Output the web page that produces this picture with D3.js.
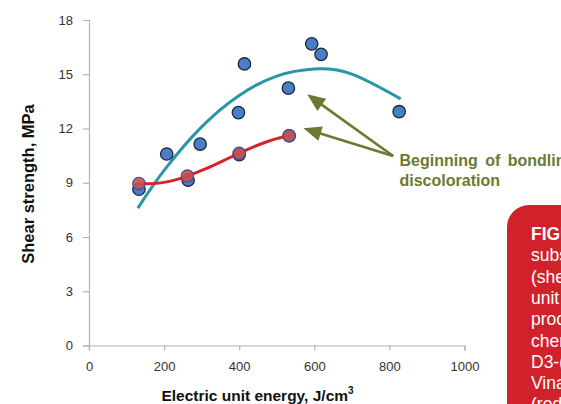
<!DOCTYPE html>
<html><head><meta charset="utf-8">
<script src="https://cdn.jsdelivr.net/npm/d3@7"></script>
<style>html,body{margin:0;padding:0;background:#fff;overflow:hidden}</style>
</head><body>
<svg id="c" width="561" height="404"></svg>
<script>
// ---- data ----
const xTicks = [0, 200, 400, 600, 800, 1000];
const yTicks = [0, 3, 6, 9, 12, 15, 18];
const blueX = [133, 207, 264, 296, 398, 400, 414, 531, 533, 593, 618, 826];
const blueY = [8.64, 10.59, 9.15, 11.14, 12.88, 10.55, 15.57, 14.23, 11.6, 16.68, 16.1, 12.93];
const redX = [133, 262, 400, 533];
const redY = [8.96, 9.37, 10.63, 11.6];
const blueTrendX = [130, 200, 300, 400, 500, 600, 700, 830];
const blueTrendY = [7.6, 9.68, 12.09, 13.83, 14.9, 15.29, 15.01, 13.64];
const redTrendX = [133, 160, 200, 230, 262, 300, 330, 370, 400, 440, 470, 500, 533];
const redTrendY = [8.96, 8.94, 9.02, 9.16, 9.37, 9.68, 9.95, 10.34, 10.63, 11.0, 11.24, 11.44, 11.6];
const annoLines = ["Beginning of bondline", "discoloration"];
const arrowTail = [810, 10.48];
const arrowTips = [[581, 13.89], [571, 12.01]];
const captionLines = ["FIGURE", "substrate", "(shear", "unit energy", "process", "chemistry", "D3-(", "Vinamul", "(red"];
const yTitle = "Shear strength, MPa";
const xTitle = "Electric unit energy, J/cm";

// ---- layout ----
const svg = d3.select("#c");
const x = d3.scaleLinear().domain([0, 1000]).range([89, 464.5]);
const y = d3.scaleLinear().domain([0, 18]).range([345.5, 20]);
const axisCol = "#b3b3b3";
const font = "Liberation Sans, Arial, sans-serif";

svg.append("rect").attr("width", 561).attr("height", 404).attr("fill", "#fff");

// axes
const gy = svg.append("g").attr("transform", "translate(89,0)")
  .call(d3.axisLeft(y).tickValues(yTicks).tickSize(6).tickPadding(10).tickFormat(d3.format("d")));
const gx = svg.append("g").attr("transform", "translate(0,345.5)")
  .call(d3.axisBottom(x).tickValues(xTicks).tickSize(5).tickPadding(11).tickFormat(d3.format("d")));
[gx, gy].forEach(g => {
  g.selectAll("path,line").attr("stroke", axisCol).attr("stroke-width", 1.2);
  g.selectAll("text").attr("fill", "#333").attr("font-family", font).attr("font-size", 13);
});

// trend lines
const line = d3.line().x(d => x(d[0])).y(d => y(d[1])).curve(d3.curveNatural);
svg.append("path").datum(blueTrendX.map((v, i) => [v, blueTrendY[i]]))
  .attr("d", line).attr("fill", "none").attr("stroke", "#2a95a8").attr("stroke-width", 3);

// blue points
svg.selectAll("circle.b").data(blueX.map((v, i) => [v, blueY[i]])).enter().append("circle")
  .attr("class", "b").attr("cx", d => x(d[0])).attr("cy", d => y(d[1])).attr("r", 6.2)
  .attr("fill", "#4a7fc6").attr("stroke", "#1c2740").attr("stroke-width", 1.3);

svg.append("path").datum(redTrendX.map((v, i) => [v, redTrendY[i]]))
  .attr("d", line).attr("fill", "none").attr("stroke", "#d7222c").attr("stroke-width", 3);

// red points
svg.selectAll("circle.r").data(redX.map((v, i) => [v, redY[i]])).enter().append("circle")
  .attr("class", "r").attr("cx", d => x(d[0])).attr("cy", d => y(d[1])).attr("r", 6.2)
  .attr("fill", "#c8504f").attr("fill-opacity", 0.9).attr("stroke", "#3f4e9a").attr("stroke-width", 1.2);

// annotation arrows
const olive = "#6b7a31";
const tx = x(arrowTail[0]), ty = y(arrowTail[1]);
arrowTips.forEach(t => {
  const px = x(t[0]), py = y(t[1]);
  const dx = px - tx, dy = py - ty, L = Math.hypot(dx, dy);
  const ux = dx / L, uy = dy / L;
  const hl = 18, hw = 7.5;
  const bx = px - ux * hl, by = py - uy * hl;
  svg.append("line").attr("x1", tx).attr("y1", ty).attr("x2", bx + ux * 2).attr("y2", by + uy * 2)
    .attr("stroke", olive).attr("stroke-width", 2.6);
  svg.append("path").attr("d", `M${px},${py}L${bx - uy * hw},${by + ux * hw}L${bx + uy * hw},${by - ux * hw}Z`)
    .attr("fill", olive);
});
const anno = svg.append("text").attr("font-family", font).attr("word-spacing", 3)
  .attr("font-weight", "bold").attr("font-size", 16).attr("fill", olive);
annoLines.forEach((s, i) => anno.append("tspan").attr("x", 399.5).attr("y", 165.5 + i * 20.5).text(s));

// axis titles
svg.append("text").attr("transform", "translate(34,184) rotate(-90)").attr("text-anchor", "middle")
  .attr("font-family", font).attr("font-weight", "bold").attr("font-size", 16.5)
  .attr("fill", "#111").text(yTitle);
const xt = svg.append("text").attr("x", 257.5).attr("y", 400.5).attr("text-anchor", "middle")
  .attr("font-family", font).attr("font-weight", "bold").attr("font-size", 15.5)
  .attr("fill", "#111").text(xTitle);
xt.append("tspan").attr("dy", -7).attr("font-size", 10).text("3");

// red caption box
svg.append("rect").attr("x", 507).attr("y", 205).attr("width", 120).attr("height", 260).attr("rx", 22)
  .attr("fill", "#d1222b");
const cap = svg.append("text").attr("font-family", font).attr("font-size", 17.5).attr("fill", "#fff");
captionLines.forEach((s, i) => cap.append("tspan").attr("x", 531).attr("y", 240 + i * 21.3)
  .attr("font-weight", i === 0 ? "bold" : "normal").text(s));
</script>
</body></html>
